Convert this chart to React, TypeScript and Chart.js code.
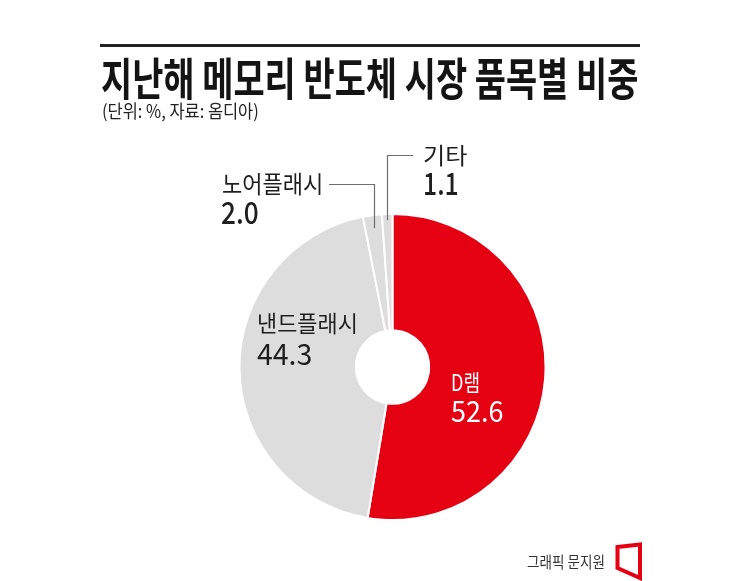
import React, { useEffect, useLayoutEffect, useRef, useState } from "react";
import { Chart, registerables } from "chart.js";

Chart.register(...registerables);

const categories = ["D램", "낸드플래시", "노어플래시", "기타"];
const shares = [52.6, 44.3, 2.0, 1.1];
const shareLabels = ["52.6", "44.3", "2.0", "1.1"];
const sliceColors = ["#e50012", "#dddddd", "#dddddd", "#dddddd"];

const TITLE = "지난해 메모리 반도체 시장 품목별 비중";
const SUBTITLE = "(단위: %, 자료: 옴디아)";
const CREDIT = "그래픽 문지원";

const FONT = '"Noto Sans CJK KR", "Noto Sans", sans-serif';

type LabelProps = {
  text: string;
  x: number;
  cy: number;
  size: number;
  width: number;
  weight?: number;
  color?: string;
};

function FitText({ text, x, cy, size, width, weight = 400, color = "#1a1a1a" }: LabelProps) {
  const ref = useRef<HTMLSpanElement>(null);
  const [scale, setScale] = useState(1);
  useLayoutEffect(() => {
    if (ref.current) {
      const w = ref.current.offsetWidth;
      if (w > 0) setScale(width / w);
    }
  }, [text, size, width]);
  return (
    <span
      ref={ref}
      style={{
        position: "absolute",
        left: x,
        top: cy - 0.57 * size,
        fontFamily: FONT,
        fontSize: size,
        fontWeight: weight,
        lineHeight: `${size}px`,
        color,
        whiteSpace: "nowrap",
        display: "inline-block",
        transform: `scaleX(${scale})`,
        transformOrigin: "0 0",
        letterSpacing: 0,
      }}
    >
      {text}
    </span>
  );
}

// leader lines: slice index -> anchor radius fraction, elbow y, end x
const leaders = [
  { index: 2, radiusFrac: 0.915, elbowY: 184, endX: 329 },
  { index: 3, radiusFrac: 0.96, elbowY: 155, endX: 413 },
];

const leaderPlugin = {
  id: "leaders",
  afterDatasetsDraw(chart: any) {
    const meta = chart.getDatasetMeta(0);
    const ctx = chart.ctx;
    ctx.save();
    ctx.strokeStyle = "#6e6e6e";
    ctx.lineWidth = 1.2;
    leaders.forEach((l) => {
      const arc = meta.data[l.index];
      if (!arc) return;
      const p = arc.getProps(["x", "y", "startAngle", "endAngle", "outerRadius"], true);
      const mid = (p.startAngle + p.endAngle) / 2;
      const r = p.outerRadius * l.radiusFrac;
      const px = Math.round(p.x + Math.cos(mid) * r) + 0.5;
      const py = p.y + Math.sin(mid) * r;
      ctx.beginPath();
      ctx.moveTo(px, py);
      ctx.lineTo(px, l.elbowY + 0.5);
      ctx.lineTo(l.endX, l.elbowY + 0.5);
      ctx.stroke();
    });
    ctx.restore();
  },
};

export default function App() {
  const canvasRef = useRef<HTMLCanvasElement>(null);

  useEffect(() => {
    if (!canvasRef.current) return;
    const chart = new Chart(canvasRef.current, {
      type: "doughnut",
      data: {
        labels: categories,
        datasets: [
          {
            data: shares,
            backgroundColor: sliceColors,
            borderColor: "#ffffff",
            borderWidth: 2,
            hoverOffset: 0,
          },
        ],
      },
      options: {
        responsive: false,
        animation: false,
        cutout: "24%",
        rotation: 0,
        layout: { padding: { left: 238, right: 198, top: 213, bottom: 60 } },
        plugins: {
          legend: { display: false },
          tooltip: { enabled: false },
        },
      },
      plugins: [leaderPlugin],
    });
    return () => chart.destroy();
  }, []);

  return (
    <div
      style={{
        position: "absolute",
        left: 0,
        top: 0,
        width: 745,
        height: 581,
        background: "#ffffff",
        overflow: "hidden",
      }}
    >
      <canvas
        ref={canvasRef}
        width={745}
        height={581}
        style={{ position: "absolute", left: 0, top: 0, width: 745, height: 581 }}
      />
      <div
        style={{
          position: "absolute",
          left: 100,
          top: 44,
          width: 540,
          height: 3,
          background: "#222222",
        }}
      />
      <FitText text={TITLE} x={101} cy={80} size={45} width={537} weight={700} color="#141414" />
      <FitText text={SUBTITLE} x={102} cy={111} size={18} width={157} color="#222222" />

      <FitText text={categories[3]} x={423} cy={156} size={23} width={44} color="#1e1e1e" />
      <FitText text={shareLabels[3]} x={423} cy={184} size={31} width={36} weight={500} color="#1e1e1e" />

      <FitText text={categories[2]} x={222} cy={185} size={24} width={101} color="#1e1e1e" />
      <FitText text={shareLabels[2]} x={221} cy={213} size={31} width={38} weight={500} color="#1e1e1e" />

      <FitText text={categories[1]} x={257} cy={324} size={23} width={101} color="#1e1e1e" />
      <FitText text={shareLabels[1]} x={257} cy={355} size={29} width={55} color="#1e1e1e" />

      <FitText text={categories[0]} x={451} cy={383} size={23} width={29} color="#ffffff" />
      <FitText text={shareLabels[0]} x={451} cy={412} size={29} width={52} color="#ffffff" />

      <FitText text={CREDIT} x={527} cy={562} size={16} width={78} color="#333333" />
      <svg
        width={745}
        height={581}
        style={{ position: "absolute", left: 0, top: 0, pointerEvents: "none" }}
      >
        <polygon
          points="617.5,547 640,544.5 640,578 617.5,568"
          fill="none"
          stroke="#e50012"
          strokeWidth={4}
          strokeLinejoin="miter"
        />
      </svg>
    </div>
  );
}
